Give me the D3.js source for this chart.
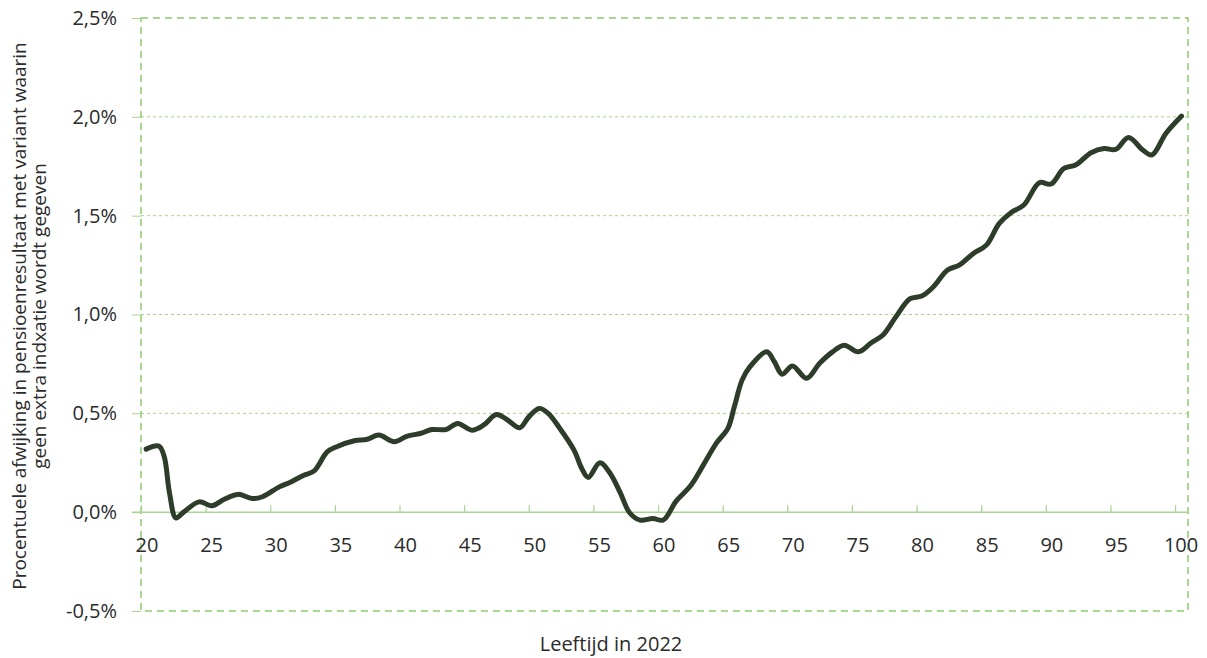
<!DOCTYPE html>
<html>
<head>
<meta charset="utf-8">
<script src="https://cdn.jsdelivr.net/npm/d3@7"></script>
<style>
  html, body { margin: 0; padding: 0; background: #fff; }
  svg text { font-family: "Open Sans", "Noto Sans", sans-serif; fill: #2b2b2b; }
</style>
</head>
<body>
<div id="chart"></div>
<script>
// ages (x) and deviation in % (y)
const ages = [20.4, 21.4, 21.8, 22.2, 22.7, 23.3, 24.5, 25.5, 26.4, 27.5, 28.6, 29.4,
  30.7, 31.6, 32.6, 33.4, 34.4, 35.1, 36.5, 37.5, 38.4, 39.6, 40.6, 41.6, 42.5, 43.6,
  44.5, 45.6, 46.5, 47.5, 48.3, 49.3, 50.0, 50.8, 51.5, 52.4, 53.5, 54.1, 54.6, 55.5,
  56.3, 57.1, 57.8, 58.6, 59.6, 60.4, 61.4, 62.5, 63.5, 64.5, 65.4, 65.9, 66.5, 67.1,
  68.4, 69.0, 69.6, 70.4, 71.5, 72.5, 73.5, 74.4, 75.5, 76.5, 77.4, 78.4, 79.5, 80.4,
  81.3, 82.4, 83.3, 84.4, 85.4, 86.4, 87.3, 88.3, 89.5, 90.4, 91.4, 92.3, 93.5, 94.5,
  95.4, 96.4, 97.5, 98.2, 99.3, 100.5];
const values = [0.319, 0.334, 0.28, 0.10, -0.029, 0.0, 0.052, 0.032, 0.064, 0.09, 0.069, 0.078,
  0.128, 0.153, 0.187, 0.209, 0.305, 0.33, 0.361, 0.369, 0.39, 0.356, 0.385, 0.398, 0.418, 0.418,
  0.449, 0.415, 0.44, 0.494, 0.469, 0.427, 0.482, 0.525, 0.50, 0.424, 0.314, 0.221, 0.176, 0.25,
  0.196, 0.095, -0.003, -0.04, -0.032, -0.04, 0.056, 0.132, 0.238, 0.348, 0.424, 0.533, 0.668, 0.735,
  0.811, 0.761, 0.698, 0.739, 0.677, 0.753, 0.811, 0.845, 0.811, 0.857, 0.896, 0.988, 1.08, 1.093,
  1.14, 1.225, 1.25, 1.309, 1.351, 1.461, 1.515, 1.554, 1.667, 1.66, 1.739, 1.756, 1.818, 1.84,
  1.835, 1.896, 1.832, 1.807, 1.917, 2.004];

const xTicks = [20, 25, 30, 35, 40, 45, 50, 55, 60, 65, 70, 75, 80, 85, 90, 95, 100];
const yTicks = [-0.5, 0, 0.5, 1.0, 1.5, 2.0, 2.5];

const titleY = ["Procentuele afwijking in pensioenresultaat met variant waarin",
  "geen extra indxatie wordt gegeven"];
const titleX = "Leeftijd in 2022";

const W = 1207, H = 658;
const plot = {left: 141, right: 1188, top: 18, bottom: 611};

const svg = d3.select("#chart").append("svg")
  .attr("width", W)
  .attr("height", H);

const x = d3.scaleLinear().domain([20, 101]).range([plot.left, plot.right]);
const y = d3.scaleLinear().domain([-0.5, 2.5]).range([plot.bottom, plot.top]);

const fmt = v => d3.format(".1f")(v).replace(".", ",").replace("−", "-") + "%";

// gridlines
svg.append("g")
  .selectAll("line")
  .data(yTicks.filter(v => v !== 0 && v !== -0.5 && v !== 2.5))
  .enter().append("line")
  .attr("x1", plot.left).attr("x2", plot.right)
  .attr("y1", d => y(d)).attr("y2", d => y(d))
  .attr("stroke", "#a9d38f")
  .attr("stroke-width", 1)
  .attr("stroke-dasharray", "3,3");

// plot border
svg.append("rect")
  .attr("x", plot.left).attr("y", plot.top)
  .attr("width", plot.right - plot.left).attr("height", plot.bottom - plot.top)
  .attr("fill", "none")
  .attr("stroke", "#8fcb6c")
  .attr("stroke-width", 1.5)
  .attr("stroke-dasharray", "7,5");

// y axis ticks and labels
const yAxis = svg.append("g")
  .attr("transform", `translate(${plot.left},0)`)
  .call(d3.axisLeft(y).tickValues(yTicks).tickFormat(fmt).tickSize(9).tickPadding(15));
yAxis.select(".domain").remove();
yAxis.selectAll(".tick line").attr("stroke", "#a9d38f");
yAxis.selectAll(".tick text").style("font-size", "20px").attr("fill", "#2b2b2b");

// x axis on the zero line, ticks pointing up
const xAxis = svg.append("g")
  .attr("transform", `translate(0,${y(0)})`)
  .call(d3.axisTop(x).tickValues(xTicks).tickSize(7).tickFormat(""));
xAxis.select(".domain")
  .attr("d", `M${plot.left - 9},0H${plot.right}`)
  .attr("stroke", "#a9d38f").attr("stroke-width", 1.5);
xAxis.selectAll(".tick line").attr("stroke", "#a9d38f").attr("stroke-width", 1.2);

svg.append("g")
  .selectAll("text")
  .data(xTicks)
  .enter().append("text")
  .attr("x", d => x(d) + 6)
  .attr("y", 552)
  .attr("text-anchor", "middle")
  .style("font-size", "20px")
  .text(d => d);

// line
const line = d3.line()
  .x((d, i) => x(ages[i]))
  .y(d => y(d))
  .curve(d3.curveCatmullRom.alpha(0.5));

svg.append("path")
  .datum(values)
  .attr("d", line)
  .attr("fill", "none")
  .attr("stroke", "#2e3d2a")
  .attr("stroke-width", 5)
  .attr("stroke-linecap", "round")
  .attr("stroke-linejoin", "round");

// axis titles
svg.append("text")
  .attr("transform", "translate(26,316) rotate(-90)")
  .attr("text-anchor", "middle")
  .style("font-size", "19px")
  .selectAll("tspan")
  .data(titleY)
  .enter().append("tspan")
  .attr("x", 0)
  .attr("dy", (d, i) => i === 0 ? 0 : 20)
  .text(d => d);

svg.append("text")
  .attr("x", 611)
  .attr("y", 651)
  .attr("text-anchor", "middle")
  .style("font-size", "20px")
  .text(titleX);
</script>
</body>
</html>
